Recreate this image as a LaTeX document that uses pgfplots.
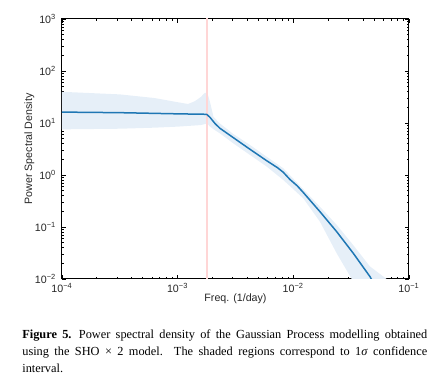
\documentclass[border=0pt]{standalone}
\usepackage{fontspec}
\setmainfont{Liberation Serif}
\newfontfamily\plotfont{Liberation Sans}
\usepackage{pgfplots}
\pgfplotsset{compat=1.18}
\definecolor{tabblue}{HTML}{1F77B4}
\definecolor{bandfill}{HTML}{E6EFF8}
\definecolor{vlinered}{rgb}{1,0.84,0.84}
\begin{document}
\begin{tikzpicture}
\path[use as bounding box] (0,0) rectangle (267.6pt,235.2pt);
\begin{axis}[
  at={(37.2pt,67.8pt)}, anchor=south west,
  scale only axis, width=208.2pt, height=156pt,
  xmode=log, ymode=log,
  xmin=1e-4, xmax=1e-1, ymin=1e-2, ymax=1e3,
  axis line style={line width=0.6pt},
  tick align=inside,
  xtick pos=both, ytick pos=both,
  major tick length=2.2pt, minor tick length=1.2pt,
  every tick/.style={black, line width=0.45pt},
  xtick={1e-4,1e-3,1e-2,1e-1},
  xticklabels={10\textsuperscript{−4},10\textsuperscript{−3},10\textsuperscript{−2},10\textsuperscript{−1}},
  ytick={1e-2,1e-1,1,1e1,1e2,1e3},
  yticklabels={10\textsuperscript{−2},10\textsuperscript{−1},10\textsuperscript{0},10\textsuperscript{1},10\textsuperscript{2},10\textsuperscript{3}},
  tick label style={font=\plotfont\fontsize{6.4pt}{7pt}\selectfont, text=black!85},
  xticklabel style={yshift=1pt},
  label style={font=\plotfont\fontsize{6.4pt}{7pt}\selectfont, text=black!85},
  xlabel={Freq. (1/day)},
  ylabel={Power Spectral Density},
  xlabel style={at={(axis description cs:0.5,-0.077)}, anchor=center},
  ylabel style={at={(axis description cs:-0.0937,0.5)}, anchor=center, rotate=0},
  clip=true,
]
\addplot[fill=bandfill, draw=none] coordinates {
 (1e-4,39.8) (3.16e-4,35.5) (6.31e-4,30.2) (1e-3,25.1) (1.23e-3,23.2)
 (1.41e-3,26.3) (1.585e-3,31.6) (1.70e-3,37.2) (1.80e-3,38.9) (1.905e-3,25.1)
 (2.04e-3,13.2) (2.29e-3,10.0) (3.02e-3,6.17) (4.22e-3,3.78) (5.89e-3,2.24)
 (8.18e-3,1.35) (1.22e-2,0.531) (1.70e-2,0.245) (2.37e-2,0.110) (3.30e-2,0.0447)
 (4.60e-2,0.0174) (6.41e-2,0.0100) (7.94e-2,0.0050)
 (3.55e-2,0.0050) (3.20e-2,0.0100) (2.37e-2,0.0312) (1.70e-2,0.126) (1.22e-2,0.355)
 (8.18e-3,0.802) (5.89e-3,1.45) (4.22e-3,2.43) (3.02e-3,4.07) (2.32e-3,6.31)
 (2.04e-3,7.59) (1.905e-3,8.51) (1.80e-3,9.77) (1.585e-3,9.12) (1e-3,8.51)
 (6.31e-4,8.13) (3.16e-4,7.76) (1e-4,7.55)
} -- cycle;
\addplot[color=vlinered, line width=0.9pt] coordinates {(1.8e-3,1e-3) (1.8e-3,1e4)};
\addplot[draw=tabblue, line width=0.9pt] coordinates {
 (1e-4,16.2) (3.16e-4,15.8) (1e-3,15.0) (1.78e-3,14.7) (1.90e-3,12.9)
 (2.10e-3,9.8) (2.32e-3,7.91) (3.03e-3,5.22) (4.22e-3,3.12) (5.89e-3,1.88)
 (7.30e-3,1.38) (8.18e-3,1.13) (9.35e-3,0.82) (1.08e-2,0.62) (1.22e-2,0.46)
 (1.70e-2,0.197) (2.37e-2,0.0813)
 (3.30e-2,0.0312) (4.60e-2,0.0111) (5.01e-2,0.0079)
};
\end{axis}
\node[anchor=north west, inner sep=0pt, text width=243pt, align=justify,
  font=\fontsize{7.4pt}{10.2pt}\selectfont] at (13.2pt,37.8pt)
  {\textbf{Figure 5.}\hspace{0.6em}Power spectral density of the Gaussian Process modelling obtained\linebreak
   using the SHO × 2 model. The shaded regions correspond to 1\textit{σ} confidence\linebreak
   interval.};
\end{tikzpicture}
\end{document}
